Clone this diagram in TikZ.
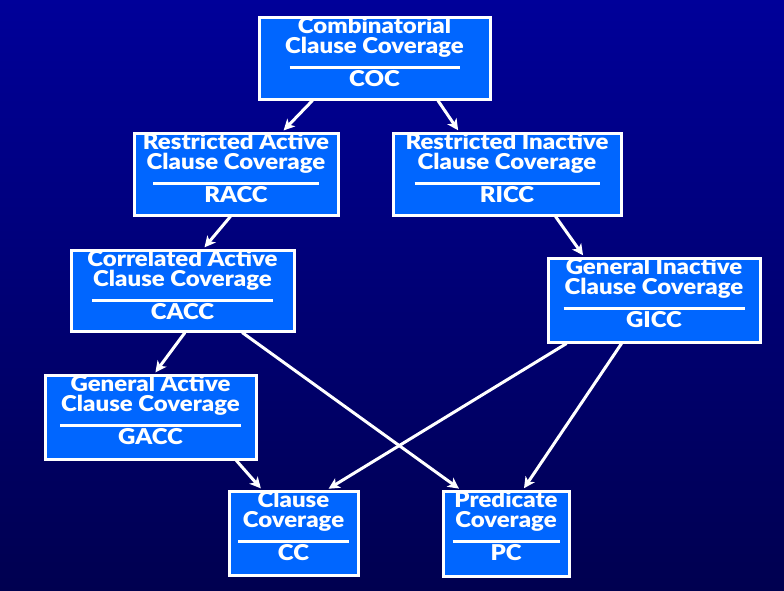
\documentclass[tikz,border=0pt]{standalone}
\usepackage{fontspec}
\newfontfamily\boxfont{Lato Black}[FakeStretch=1.1]
\usetikzlibrary{arrows.meta,calc}
\definecolor{bgtop}{RGB}{0,0,153}
\definecolor{bgbot}{RGB}{0,0,80}
\definecolor{boxblue}{RGB}{0,102,255}
\tikzset{
  covbox/.style={draw=white, line width=3pt, fill=boxblue, inner sep=0pt, anchor=north west},
  covtext/.style={text=white, font=\boxfont\fontsize{21.8}{21.8}\selectfont, anchor=base, inner sep=0pt},
  firstline/.style={covtext, text height=15.5pt, text depth=0pt},
  secondline/.style={covtext, text height=15pt, text depth=5pt},
  abbrline/.style={covtext, text height=15pt, text depth=0pt},
  sepline/.style={draw=white, line width=2.6pt},
  arr/.style={draw=white, line width=3pt, shorten >=1.5pt, -{Stealth[length=11pt,width=11pt,inset=3pt]}},
}
\newcommand{\covbox}[9]{%
  \node[covbox, minimum width={(#4-#2-3)*1pt}, minimum height={(#5-#3-3)*1pt}] (#1) at ({#2+1.5},{#3+1.5}) {};
  \node[firstline] (#1-l1) at ($(#1.north)+(0,18.3)$) {#6};
  \node[secondline] (#1-l2) at ($(#1.north)+(0,38)$) {#7};
  \coordinate (#1-ra) at ($(#1.north)+({-#9/2},52)$);
  \coordinate (#1-rb) at ($(#1.north)+({#9/2},52)$);
  \draw[sepline] (#1-ra) -- (#1-rb);
  \node[abbrline] (#1-ab) at ($(#1.north)+(0,70.5)$) {#8};
}
\begin{document}
\begin{tikzpicture}[x=1pt,y=-1pt]
  \useasboundingbox (0,0) rectangle (784,590);
  \fill[top color=bgtop, bottom color=bgbot] (0,0) rectangle (784,590);
  \covbox{coc}{256}{14}{490}{99}{Combinatorial}{Clause Coverage}{COC}{170}
  \covbox{racc}{131}{130}{338}{215}{Restricted Active}{Clause Coverage}{RACC}{166}
  \covbox{ricc}{390}{130}{621}{215}{Restricted Inactive}{Clause Coverage}{RICC}{185}
  \covbox{cacc}{68}{247}{294}{331}{Correlated Active}{Clause Coverage}{CACC}{181}
  \covbox{gicc}{545}{255}{760}{342}{General Inactive}{Clause Coverage}{GICC}{181}
  \covbox{gacc}{42}{372}{256}{459}{General Active}{Clause Coverage}{GACC}{181}
  \covbox{cc}{226}{488}{358}{575}{Clause}{Coverage}{CC}{111}
  \covbox{pc}{440}{488}{569}{576}{Predicate}{Coverage}{PC}{107}
  \draw[arr] ($(coc.south west)!0.235!(coc.south east)$) -- ($(racc.north west)!0.725!(racc.north east)$);
  \draw[arr] ($(coc.south west)!0.771!(coc.south east)$) -- ($(ricc.north west)!0.292!(ricc.north east)$);
  \draw[arr] ($(racc.south west)!0.473!(racc.south east)$) -- ($(cacc.north west)!0.593!(cacc.north east)$);
  \draw[arr] ($(ricc.south west)!0.71!(ricc.south east)$) -- ($(gicc.north west)!0.174!(gicc.north east)$);
  \draw[arr] ($(cacc.south west)!0.511!(cacc.south east)$) -- ($(gacc.north west)!0.519!(gacc.north east)$);
  \draw[arr] ($(cacc.south west)!0.764!(cacc.south east)$) -- ($(pc.north west)!0.145!(pc.north east)$);
  \draw[arr] ($(gicc.south west)!0.093!(gicc.south east)$) -- ($(cc.north west)!0.756!(cc.north east)$);
  \draw[arr] ($(gicc.south west)!0.349!(gicc.south east)$) -- ($(pc.north west)!0.633!(pc.north east)$);
  \draw[arr] ($(gacc.south west)!0.901!(gacc.south east)$) -- ($(cc.north west)!0.26!(cc.north east)$);
\end{tikzpicture}
\end{document}
